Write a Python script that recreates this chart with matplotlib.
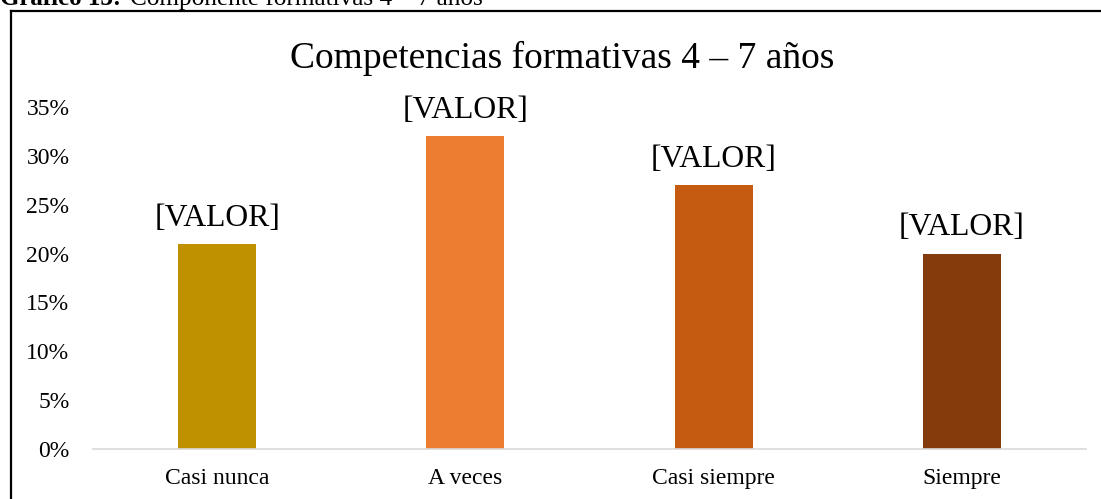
import matplotlib
matplotlib.use("Agg")
import matplotlib.pyplot as plt
from matplotlib.ticker import PercentFormatter, MultipleLocator
from matplotlib.lines import Line2D

categories = ["Casi nunca", "A veces", "Casi siempre", "Siempre"]
values = [0.21, 0.32, 0.27, 0.20]
bar_labels = ["[VALOR]", "[VALOR]", "[VALOR]", "[VALOR]"]
colors = ["#BF9000", "#ED7D31", "#C55A11", "#843C0C"]
title = "Competencias formativas 4 – 7 años"

plt.rcParams['font.family'] = ['Liberation Serif', 'DejaVu Serif']

W, H = 1101, 499
fig = plt.figure(figsize=(W / 100, H / 100), dpi=100)

# outer frame (top and left edges visible)
fig.add_artist(Line2D([11 / W, 11 / W], [0, 1 - 11 / H], color="black", lw=1.6))
fig.add_artist(Line2D([11 / W, 1], [1 - 11 / H, 1 - 11 / H], color="black", lw=1.6))

# caption partially clipped at the top edge
fig.text(0, 1 - 5 / H, "Gráfico 13:", fontsize=18, fontweight="bold", va="baseline", ha="left")
fig.text(130 / W, 1 - 5 / H, "Componente formativas 4 – 7 años", fontsize=18.2, va="baseline", ha="left")

left, right = 93 / W, 1086 / W
bottom, top = 1 - 449 / H, 1 - 107 / H
ax = fig.add_axes([left, bottom, right - left, top - bottom])

x = list(range(len(categories)))
bars = ax.bar(x, values, width=0.315, color=colors, zorder=2)
ax.set_xlim(-0.5, len(categories) - 0.5)
ax.set_ylim(0, 0.35)
ax.yaxis.set_major_locator(MultipleLocator(0.05))
ax.yaxis.set_major_formatter(PercentFormatter(1.0, decimals=0))
ax.set_xticks(x)
ax.set_xticklabels(categories)

for s in ["top", "right", "left"]:
    ax.spines[s].set_visible(False)
ax.spines["bottom"].set_color("#D9D9D9")
ax.spines["bottom"].set_linewidth(1.2)
ax.tick_params(axis="both", length=0, labelsize=17, colors="#000000")
ax.tick_params(axis="y", pad=17)
ax.tick_params(axis="x", pad=14)

for b, lab in zip(bars, bar_labels):
    ax.annotate(lab, (b.get_x() + b.get_width() / 2, b.get_height()),
                xytext=(0, 8), textcoords="offset points",
                ha="center", va="bottom", fontsize=22.8, annotation_clip=False)

fig.text(562 / W, 1 - 68 / H, title, fontsize=27, ha="center", va="baseline")

fig.savefig("out.png", dpi=100)
